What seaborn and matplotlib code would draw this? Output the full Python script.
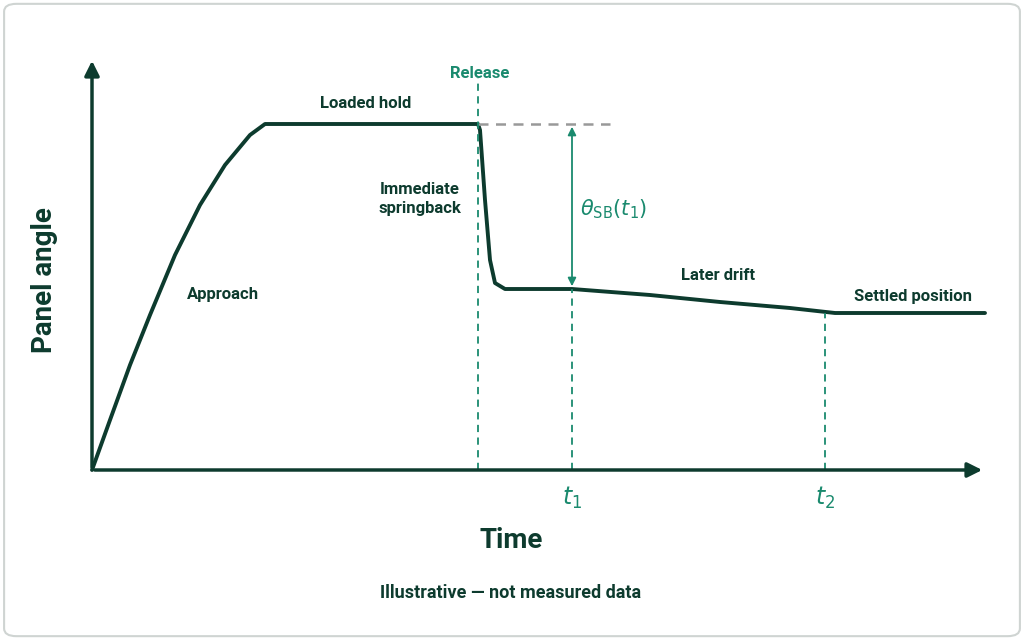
import matplotlib
matplotlib.use("Agg")
import matplotlib.pyplot as plt
import seaborn as sns
from matplotlib.patches import FancyBboxPatch

sns.set_theme(style="white")
plt.rcParams['font.family'] = ['Roboto', 'DejaVu Sans']

# curve data (time, angle) in arbitrary units
time = [0, 18, 38, 58, 83, 108, 133, 158, 173, 386, 388, 393, 398, 403, 413, 480, 558, 628, 698, 743, 893]
angle = [0, 50, 105, 155, 215, 265, 305, 335, 346, 346, 340, 270, 210, 187, 181, 181, 175, 168, 162, 157, 157]
t_release, t1, t2 = 386, 480, 733
hold_level, t1_level, t2_level = 346, 181, 157

DARK = "#0d3b2e"
TEAL = "#1a8a6e"

fig = plt.figure(figsize=(10.24, 6.4), dpi=100)
ax = fig.add_axes([0, 0, 1, 1])
ax.set_xlim(-92, 932)
ax.set_ylim(-170, 470)
ax.axis("off")
ax.add_patch(FancyBboxPatch((0.004, 0.006), 0.992, 0.988, boxstyle="round,pad=0,rounding_size=0.012",
                            transform=ax.transAxes, fc="none", ec="#cfd4d2", lw=1.5, clip_on=False))

# axes arrows
ax.annotate("", xy=(893, 0), xytext=(0, 0), arrowprops=dict(arrowstyle="-|>", color=DARK, lw=2.5, mutation_scale=22))
ax.annotate("", xy=(0, 412), xytext=(0, 0), arrowprops=dict(arrowstyle="-|>", color=DARK, lw=2.5, mutation_scale=22))

sns.lineplot(x=time, y=angle, ax=ax, color=DARK, lw=2.8, sort=False, estimator=None)

# guides
ax.plot([t_release, 518], [hold_level, hold_level], ls=(0, (4, 3)), color="#999999", lw=1.8)
ax.plot([t_release, t_release], [0, 392], ls=(0, (4, 3)), color=TEAL, lw=1.3)
ax.plot([t1, t1], [0, t1_level], ls=(0, (4, 3)), color=TEAL, lw=1.3)
ax.plot([t2, t2], [0, t2_level], ls=(0, (4, 3)), color=TEAL, lw=1.3)
ax.annotate("", xy=(t1, hold_level), xytext=(t1, t1_level),
            arrowprops=dict(arrowstyle="<|-|>", color=TEAL, lw=1.3, mutation_scale=12))

ax.text(t_release + 2, 397, "Release", color=TEAL, fontsize=12, fontweight="bold", ha="center", va="center")
ax.text(t1 + 8, 261, r"$\theta_{\mathrm{SB}}(t_1)$", color=TEAL, fontsize=15, ha="left", va="center")
ax.text(t1, -28, r"$t_1$", color=TEAL, fontsize=17, ha="center", va="center")
ax.text(t2, -28, r"$t_2$", color=TEAL, fontsize=17, ha="center", va="center")

lab = dict(color=DARK, fontsize=12, fontweight="bold", ha="center", va="center")
ax.text(274, 366, "Loaded hold", **lab)
ax.text(328, 271, "Immediate\nspringback", linespacing=1.3, **lab)
ax.text(131, 175, "Approach", **lab)
ax.text(626, 194, "Later drift", **lab)
ax.text(821, 174, "Settled position", **lab)

ax.text(419, -70, "Time", color=DARK, fontsize=20, fontweight="bold", ha="center", va="center")
ax.text(-47, 190, "Panel angle", color=DARK, fontsize=20, fontweight="bold", ha="center", va="center", rotation=90)
ax.text(419, -123, "Illustrative — not measured data", color=DARK, fontsize=13, fontweight="bold", ha="center", va="center")

fig.savefig("out.png", dpi=100)
